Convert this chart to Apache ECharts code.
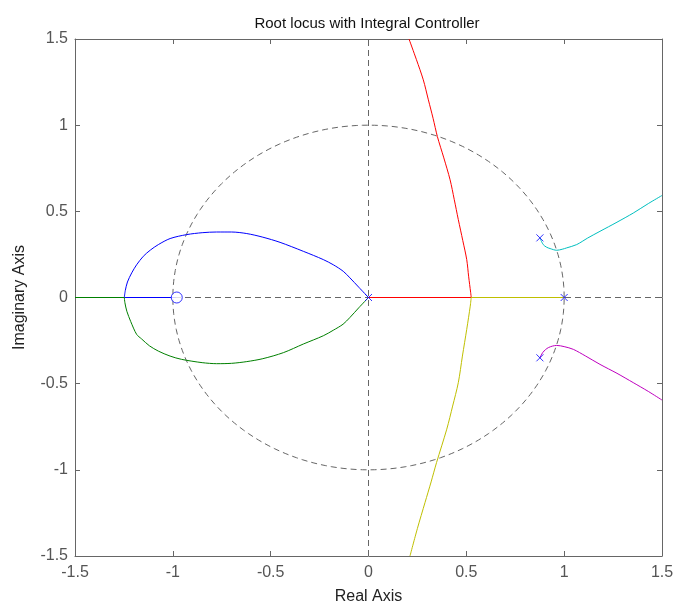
<!DOCTYPE html>
<html>
<head>
<meta charset="utf-8">
<script src="https://cdn.jsdelivr.net/npm/echarts@6/dist/echarts.min.js"></script>
<style>
html,body{margin:0;padding:0;background:#fff;}
#chart{width:676px;height:605px;}
</style>
</head>
<body>
<div id="chart"></div>
<script>
var titleText = 'Root locus with Integral Controller';
var xName = 'Real Axis';
var yName = 'Imaginary Axis';
var axisMin = -1.5, axisMax = 1.5, axisStep = 0.5;

var blueLoop = [[0,0],[-0.05,0.06],[-0.095,0.114],[-0.129,0.152],[-0.18,0.19],[-0.231,0.22],[-0.333,0.268],[-0.452,0.32],[-0.54,0.35],[-0.622,0.371],[-0.70,0.38],[-0.776,0.380],[-0.85,0.376],[-0.929,0.365],[-1.014,0.342],[-1.074,0.307],[-1.115,0.275],[-1.151,0.239],[-1.185,0.19],[-1.210,0.143],[-1.232,0.09],[-1.243,0.04],[-1.248,0]];
var blueAxis = [[-1.248,0],[-0.984,0]];
var greenLoop = [[0,0],[-0.05,-0.06],[-0.095,-0.116],[-0.13,-0.155],[-0.18,-0.19],[-0.231,-0.222],[-0.333,-0.27],[-0.435,-0.32],[-0.54,-0.355],[-0.622,-0.372],[-0.70,-0.382],[-0.776,-0.384],[-0.85,-0.378],[-0.955,-0.359],[-1.014,-0.34],[-1.074,-0.311],[-1.12,-0.28],[-1.16,-0.24],[-1.185,-0.214],[-1.215,-0.14],[-1.235,-0.08],[-1.245,-0.03],[-1.248,0]];
var greenAxis = [[-1.248,0],[-1.5,0]];
var redAxis = [[0,0],[0.525,0]];
var redCurve = [[0.525,0],[0.522,0.03],[0.512,0.12],[0.502,0.22],[0.482,0.33],[0.459,0.452],[0.438,0.57],[0.417,0.683],[0.385,0.81],[0.352,0.934],[0.330,1.04],[0.306,1.147],[0.280,1.263],[0.245,1.38],[0.207,1.5]];
var yellowAxis = [[1,0],[0.525,0]];
var yellowCurve = [[0.525,0],[0.52,-0.05],[0.502,-0.185],[0.48,-0.34],[0.459,-0.494],[0.43,-0.63],[0.4,-0.764],[0.348,-0.957],[0.32,-1.07],[0.289,-1.189],[0.25,-1.34],[0.212,-1.5]];
var cyanBranch = [[0.876,0.346],[0.893,0.307],[0.91,0.292],[0.928,0.284],[0.962,0.274],[0.99,0.28],[1.013,0.288],[1.064,0.307],[1.12,0.345],[1.183,0.384],[1.27,0.437],[1.353,0.49],[1.43,0.545],[1.5,0.592]];
var magentaBranch = [[0.876,-0.35],[0.89,-0.32],[0.905,-0.302],[0.919,-0.291],[0.94,-0.282],[0.962,-0.278],[1.0,-0.285],[1.047,-0.301],[1.11,-0.34],[1.183,-0.388],[1.27,-0.44],[1.353,-0.494],[1.43,-0.545],[1.5,-0.595]];
var poles = [[0,0],[1,0],[0.876,0.346],[0.876,-0.35]];
var zeros = [[-0.98,0]];
var unitCircle = [[0,0,1]];
var refLines = [[0,0]];

var FONT = 'Liberation Sans, Arial, sans-serif';
var AX = '#666';
var TXT = '#555';

function branch(data, color, smooth) {
  return {
    type: 'line', data: data, showSymbol: false, symbol: 'none', smooth: smooth || false,
    lineStyle: {color: color, width: 1}, clip: true, silent: true, z: 3, animation: false
  };
}

var baseX = {
  type: 'value', min: axisMin, max: axisMax, interval: axisStep,
  splitLine: {show: false},
  axisLine: {onZero: false, lineStyle: {color: AX, width: 1}},
  axisTick: {inside: true, length: 5, lineStyle: {color: AX}},
  axisLabel: {color: TXT, fontFamily: FONT, fontSize: 16, margin: 9,
    formatter: function(v){ return String(Math.round(v*10)/10); }}
};

var chart = echarts.init(document.getElementById('chart'), null, {renderer: 'canvas'});
chart.setOption({
  animation: false,
  backgroundColor: '#fff',
  title: {text: titleText, left: 362, top: 11, textAlign: 'center',
    textStyle: {fontFamily: FONT, fontSize: 15, fontWeight: 'normal', color: '#111'}},
  grid: {left: 75, right: 14, top: 39, bottom: 49, containLabel: false, outerBoundsMode: 'none'},
  xAxis: [
    Object.assign({}, baseX, {position: 'bottom', name: xName, nameLocation: 'middle', nameGap: 33,
      nameTextStyle: {fontFamily: FONT, fontSize: 16, color: '#222'}}),
    Object.assign({}, baseX, {position: 'top', axisLabel: {show: false}})
  ],
  yAxis: [
    Object.assign({}, baseX, {position: 'left', name: yName, nameLocation: 'middle', nameGap: 47, nameRotate: 90,
      nameTextStyle: {fontFamily: FONT, fontSize: 16, color: '#222'},
      axisLabel: Object.assign({}, baseX.axisLabel, {margin: 7})}),
    Object.assign({}, baseX, {position: 'right', axisLabel: {show: false}})
  ],
  series: [
    {
      type: 'custom', data: unitCircle, silent: true, z: 1,
      renderItem: function(params, api) {
        var cx = api.value(0), cy = api.value(1), r = api.value(2);
        var pts = [];
        for (var i = 0; i <= 200; i++) {
          var t = i / 200 * Math.PI * 2;
          pts.push(api.coord([cx + r * Math.cos(t), cy + r * Math.sin(t)]));
        }
        return {type: 'polyline', shape: {points: pts},
          style: {stroke: '#666', lineWidth: 1, fill: null, lineDash: [6, 4]}};
      }
    },
    {
      type: 'custom', data: refLines, silent: true, z: 1,
      renderItem: function(params, api) {
        var x0 = api.value(0), y0 = api.value(1);
        var a = api.coord([axisMin, y0]), b = api.coord([axisMax, y0]);
        var c = api.coord([x0, axisMin]), d = api.coord([x0, axisMax]);
        var st = {stroke: '#666', lineWidth: 1, lineDash: [6, 4]};
        return {type: 'group', children: [
          {type: 'line', shape: {x1: a[0], y1: a[1], x2: b[0], y2: b[1]}, style: st},
          {type: 'line', shape: {x1: c[0], y1: c[1], x2: d[0], y2: d[1]}, style: st}
        ]};
      }
    },
    branch(blueLoop, '#0000ff', 0.3),
    branch(blueAxis, '#0000ff'),
    branch(greenLoop, '#008000', 0.3),
    branch(greenAxis, '#008000'),
    branch(redAxis, '#ff0000'),
    branch(redCurve, '#ff0000', 0.3),
    branch(yellowAxis, '#bfbf00'),
    branch(yellowCurve, '#bfbf00', 0.3),
    branch(cyanBranch, '#00bfbf', 0.3),
    branch(magentaBranch, '#bf00bf', 0.3),
    {
      type: 'scatter', data: zeros, symbol: 'circle', symbolSize: 11, z: 5, silent: true,
      itemStyle: {color: '#ffffff', borderColor: '#0000ff', borderWidth: 1}
    },
    {
      type: 'scatter', data: poles, z: 6, silent: true,
      symbol: 'path://M0,0L10,10M10,0L0,10', symbolSize: 7,
      itemStyle: {color: 'none', borderColor: '#0000ff', borderWidth: 1}
    }
  ]
});
</script>
</body>
</html>
